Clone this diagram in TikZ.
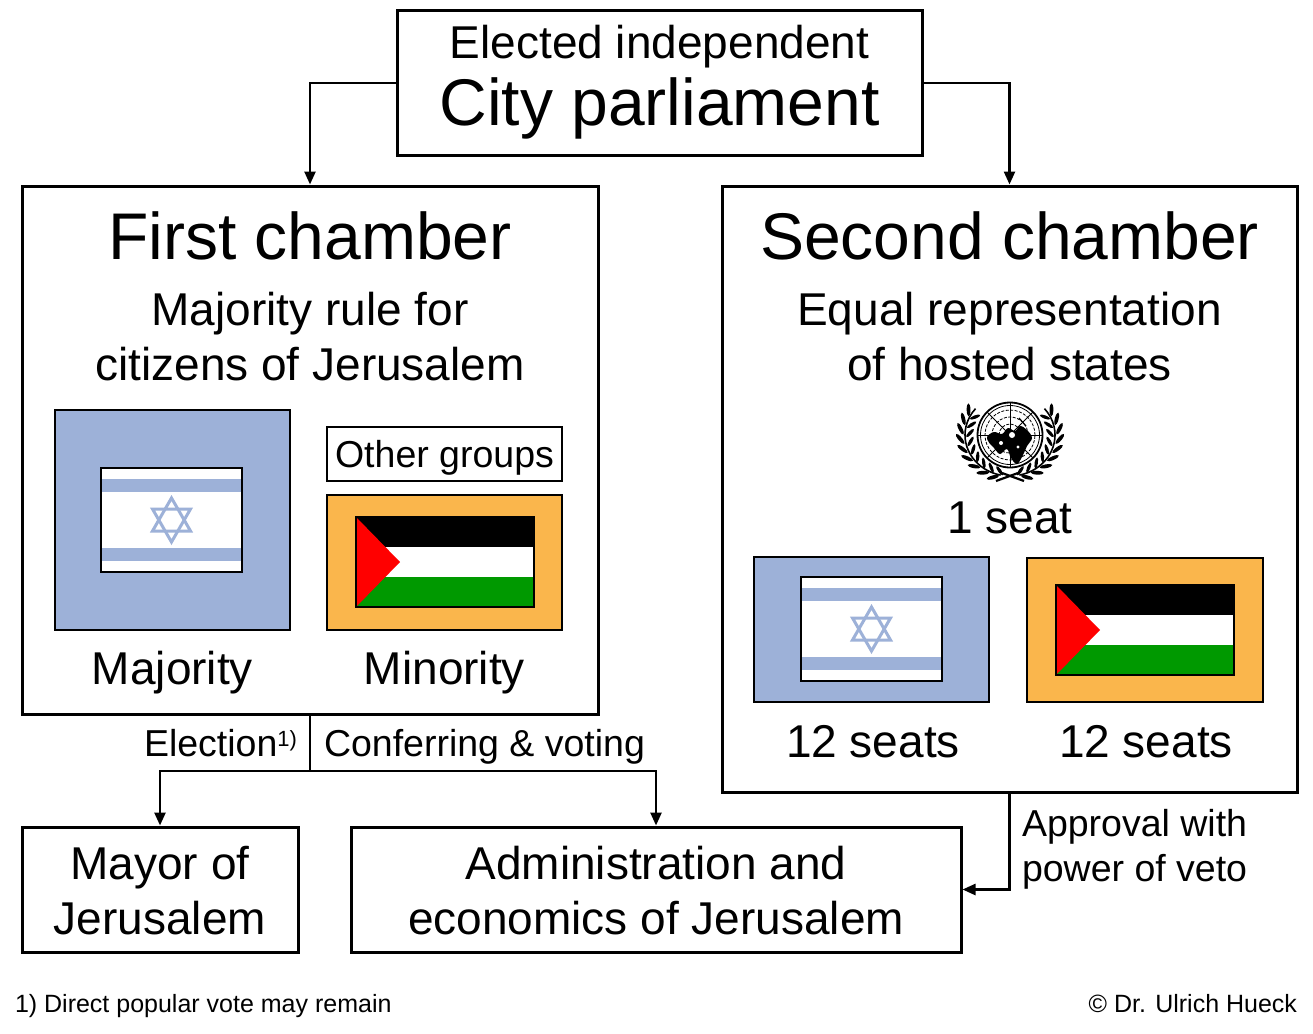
\documentclass[tikz,border=0pt]{standalone}
\usepackage{fontspec}
\setmainfont{Liberation Sans}
\usetikzlibrary{arrows.meta}
\definecolor{isrblue}{RGB}{157,177,216}
\definecolor{palorange}{RGB}{250,182,76}
\definecolor{palgreen}{RGB}{0,153,0}
\newcommand\fsTitle{\fontsize{66}{66}\selectfont}
\newcommand\fsBody{\fontsize{46}{46}\selectfont}
\newcommand\fsSmall{\fontsize{37.5}{37.5}\selectfont}
\newcommand\fsFoot{\fontsize{25}{25}\selectfont}
\tikzset{
  box/.style={draw=black, line width=3pt, rectangle, inner sep=0pt, outer sep=1.5pt},
  fillbox/.style={draw=black, line width=2.5pt, rectangle, inner sep=0pt, outer sep=0pt, fill=#1},
  txt/.style={anchor=base, inner sep=0pt, outer sep=0pt, font=\fsBody},
  arr/.style={line width=2.5pt, -{Triangle[length=13pt,width=11pt]}},
  conn/.style={line width=2.5pt},
  leaf/.style={fill=black},
  israelflag/.pic={
    \fill[white] (-70.5,-52) rectangle (70.5,52);
    \fill[isrblue] (-70.5,-41) rectangle (70.5,-28);
    \fill[isrblue] (-70.5,28) rectangle (70.5,41);
    \draw[isrblue, line width=3pt] (0,-22) -- (19,11) -- (-19,11) -- cycle;
    \draw[isrblue, line width=3pt] (0,22) -- (19,-11) -- (-19,-11) -- cycle;
    \draw[line width=2.5pt] (-70.5,-52) rectangle (70.5,52);
  },
  palflag/.pic={
    \fill[black] (-89,-45) rectangle (89,-15);
    \fill[white] (-89,-15) rectangle (89,15);
    \fill[palgreen] (-89,15) rectangle (89,45);
    \fill[red] (-89,-45) -- (-45,0) -- (-89,45) -- cycle;
    \draw[line width=2.5pt] (-89,-45) rectangle (89,45);
  }
}
\begin{document}
\begin{tikzpicture}[x=1pt,y=-1pt]
\fill[white] (0,0) rectangle (1313,1033);
\useasboundingbox (0,0) rectangle (1313,1033);

% main boxes
\node[box, minimum width=525pt, minimum height=144pt] (top) at (659.5,83) {};
\node[box, minimum width=576pt, minimum height=528pt] (first) at (310,450) {};
\node[box, minimum width=575pt, minimum height=606pt] (second) at (1009.5,489) {};
\node[box, minimum width=276pt, minimum height=125pt] (mayor) at (160,889.5) {};
\node[box, minimum width=610pt, minimum height=125pt] (admin) at (656,889.5) {};

% flag boxes
\node[fillbox=isrblue, minimum width=235pt, minimum height=220pt] (isr1) at (172.5,520) {};
\node[draw=black, line width=2.5pt, inner sep=0pt, minimum width=235pt, minimum height=54pt] (other) at (444.5,454) {};
\node[fillbox=palorange, minimum width=235pt, minimum height=135pt] (pal1) at (444.5,562.5) {};
\node[fillbox=isrblue, minimum width=235pt, minimum height=145pt] (isr2) at (871.5,629.5) {};
\node[fillbox=palorange, minimum width=236pt, minimum height=144pt] (pal2) at (1145,630) {};
\pic at (171.5,520) {israelflag};
\pic at (445,562) {palflag};
\pic at (871.5,629) {israelflag};
\pic at (1145,630) {palflag};

% UN emblem
\begin{scope}[shift={(1010,435)}]
  \draw[line width=1.6pt] (258:45pt and 41pt) arc[start angle=258, end angle=140, x radius=45pt, y radius=41pt];
  \draw[line width=1.6pt] (-78:45pt and 41pt) arc[start angle=-78, end angle=40, x radius=45pt, y radius=41pt];
  \foreach \a in {250,237,...,140} {
    \fill[leaf, shift={(\a:50pt and 45pt)}, rotate=\a-55] (0,0) ellipse[x radius=6.5pt, y radius=1.9pt];
    \fill[leaf, shift={(\a+5:40pt and 37pt)}, rotate=\a-125] (0,0) ellipse[x radius=5.5pt, y radius=1.7pt];
  }
  \foreach \a in {-70,-57,...,40} {
    \fill[leaf, shift={(\a:50pt and 45pt)}, rotate=\a+55] (0,0) ellipse[x radius=6.5pt, y radius=1.9pt];
    \fill[leaf, shift={(\a-5:40pt and 37pt)}, rotate=\a+125] (0,0) ellipse[x radius=5.5pt, y radius=1.7pt];
  }
  \draw[line width=2.2pt] (-8pt,-38pt) -- (14pt,-46pt);
  \draw[line width=2.2pt] (8pt,-38pt) -- (-14pt,-46pt);
  \fill[white] (0,0) circle[radius=32.5pt];
  \draw[line width=0.8pt, dash pattern=on 3pt off 1.5pt] (0,0) circle[radius=25pt];
  \draw[line width=0.8pt, dash pattern=on 3pt off 1.5pt] (0,0) circle[radius=18pt];
  \draw[line width=0.8pt, dash pattern=on 3pt off 1.5pt] (0,0) circle[radius=11pt];
  \foreach \b in {0,45,...,315} \draw[line width=0.8pt] (0,0) -- (\b:32pt);
  \fill[black] plot[smooth cycle, tension=0.6] coordinates {(-23pt,-2pt) (-16pt,3pt) (-8pt,1pt) (-2pt,7pt) (5pt,4pt) (10pt,9pt) (17pt,5pt) (22pt,-3pt) (17pt,-11pt) (13pt,-20pt) (7pt,-29pt) (1pt,-23pt) (-3pt,-14pt) (-10pt,-19pt) (-16pt,-13pt) (-20pt,-9pt)};
  \fill[white] (2pt,0pt) circle[radius=3pt];
  \fill[white] (-9pt,-8pt) circle[radius=2pt];
  \fill[white] (8pt,-12pt) circle[radius=1.6pt];
  \draw[line width=1.2pt] (9pt,17pt) -- (16pt,9pt);
  \draw[line width=1.8pt] (0,0) circle[radius=32.5pt];
  \draw[line width=0.8pt] (0,0) circle[radius=29.5pt];
\end{scope}

% connectors
\coordinate (split) at (310,771);
\draw[arr] (top.west) -| (first.north);
\draw[arr] (top.east) -| (second.north);
\draw[conn] (first.south) -- (split);
\draw[arr] (split) -| (mayor.north);
\draw[arr] (split) -| (admin.north);
\draw[arr] (second.south) |- (admin.east);

% texts
\node[txt, font=\fsBody] (t1) at (659.5,59) {Elected independent};
\node[txt, font=\fsTitle] (t2) at (659.5,125) {City parliament};
\node[txt, font=\fsTitle] (t3) at (310,259) {First chamber};
\node[txt] (t4) at (310,325) {Majority rule for};
\node[txt] (t5) at (310,380) {citizens of Jerusalem};
\node[txt, font=\fsSmall] (t6) at (444.5,467) {Other groups};
\node[txt] (t7) at (172.5,684) {Majority};
\node[txt] (t8) at (444.5,684) {Minority};
\node[txt, font=\fsTitle] (t9) at (1009.5,259) {Second chamber};
\node[txt] (t10) at (1009.5,325) {Equal representation};
\node[txt] (t11) at (1009.5,380) {of hosted states};
\node[txt] (t12) at (1010,533) {1 seat};
\node[txt] (t13) at (873,757) {12 seats};
\node[txt] (t14) at (1146,757) {12 seats};
\node[txt, font=\fsSmall, anchor=base east] (t15) at (297,756) {Election\raisebox{10pt}{\fontsize{22}{22}\selectfont 1)}};
\node[txt, font=\fsSmall, anchor=base west] (t16) at (324,756) {Conferring \& voting};
\node[txt] (t17) at (160,879) {Mayor of};
\node[txt] (t18) at (160,934) {Jerusalem};
\node[txt] (t19) at (656,879) {Administration and};
\node[txt] (t20) at (656,934) {economics of Jerusalem};
\node[txt, font=\fsSmall, anchor=base west] (t21) at (1022,836) {Approval with};
\node[txt, font=\fsSmall, anchor=base west] (t22) at (1022,881) {power of veto};
\node[txt, font=\fsFoot, anchor=base west] (t23) at (15,1012) {1) Direct popular vote may remain};
\node[txt, font=\fsFoot, anchor=base east] (t24) at (1297,1012) {© Dr. Ulrich Hueck};
\end{tikzpicture}
\end{document}
